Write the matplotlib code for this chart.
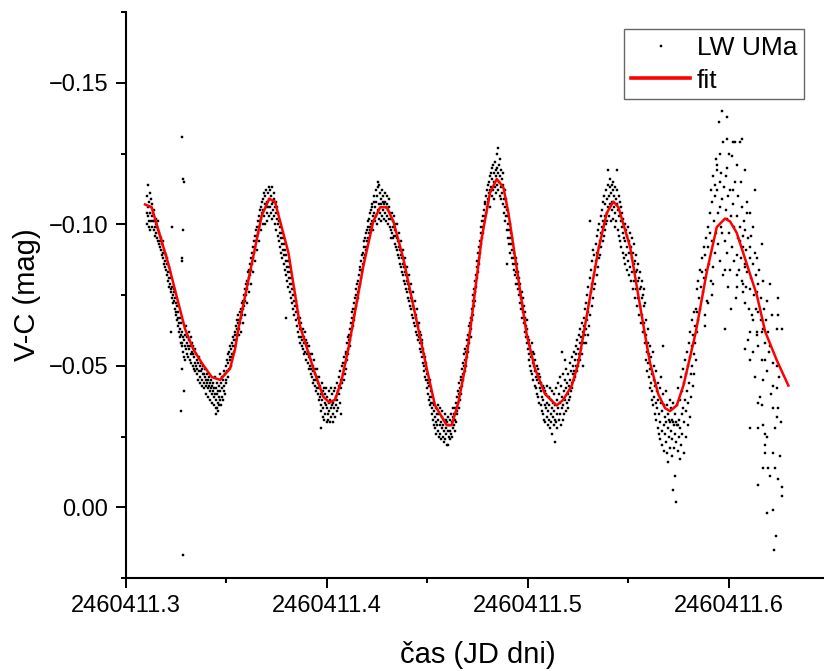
import numpy as np
import matplotlib
matplotlib.use("Agg")
import matplotlib.pyplot as plt
from matplotlib.ticker import FixedLocator, FuncFormatter, MultipleLocator

plt.rcParams["font.family"] = ["Liberation Sans", "DejaVu Sans"]

# time is kept as units of 1e-4 d after T0, V-C in mmag
T0 = 2460411.3

cyc1 = [(105,-104),(107,-100),(108,-110),(110,-103),(112,-106),(113,-114),(115,-101),(117,-108),(118,-99),(120,-111),
        (122,-104),(123,-98),(125,-106),(127,-101),(128,-109),(130,-103),(132,-99),(133,-107),(135,-101),(137,-104),
        (139,-98),(141,-101),(143,-105),(145,-99),(147,-96),(149,-102),(151,-97),(153,-100),(155,-95),(157,-99),
        (159,-94),(161,-98),(163,-101),(165,-93),(167,-97),(169,-92),(171,-96),(173,-94),(175,-91),(177,-95),
        (179,-89),(181,-93),(183,-90),(185,-94),(187,-88),(189,-91),(191,-86),(193,-90),(195,-87),(197,-85),
        (199,-89),(201,-84),(203,-88),(205,-82),(207,-86),(209,-83),(211,-80),(213,-85),(215,-81),(217,-78),
        (219,-83),(221,-79),(223,-76),(225,-81),(225,-62),(227,-77),(229,-99),(230,-74),(232,-78),(234,-75),
        (236,-72),(238,-77),(240,-73),(242,-76),(244,-70),(246,-74),(248,-68),(250,-72),(252,-69),(254,-66),
        (256,-71),(258,-67),(260,-64),(262,-69),(264,-65),(266,-62),(268,-67),(270,-63),(272,-60),(273,-58),
        (274,-65),(276,-61),(277,-34),(278,-131),(278,-88),(278,-49),(279,-58),(280,-87),(281,-62),(282,-57),
        (284,-60),(286,-116),(286,-98),(286,17),(287,-55),(288,-115),(289,-59),(291,-41),(291,-53),(293,-57),
        (295,-52),(297,-61),(299,-56),(301,-64),(303,-58),(305,-54),(307,-60),(309,-57),(311,-53),(313,-62),
        (315,-56),(317,-59),(319,-52),(321,-57),(323,-54),(325,-60),(327,-51),(329,-55),(331,-58),(333,-50),
        (335,-54),(337,-57),(339,-49),(341,-53),(343,-56),(345,-51),(347,-48),(349,-54),(351,-50),(353,-47),
        (355,-52),(357,-49),(359,-45),(361,-51),(363,-48),(365,-53),(367,-46),(369,-50),(371,-44),(373,-48),
        (375,-51),(377,-45),(379,-49),(381,-43),(383,-47),(385,-50),(387,-44),(389,-47),(391,-42),(393,-46),
        (395,-49),(397,-43),(399,-45),(401,-40),(403,-44),(405,-47),(407,-42),(409,-45),(411,-39),(413,-43),
        (415,-46),(417,-41),(419,-44),(421,-38),(423,-42),(425,-45),(427,-40),(429,-43),(431,-37),(433,-41),
        (435,-44),(437,-39),(439,-42),(441,-36),(443,-40),(445,-46),(447,-38),(448,-33),(449,-42),(451,-35),
        (453,-40),(455,-35),(455,-44),(457,-37),(459,-41),(461,-34),(462,-36),(463,-39),(465,-43),(467,-38),
        (469,-47),(471,-41),(473,-36),(475,-44),(477,-39),(479,-46),(481,-42),(483,-38),(485,-45),(487,-41),
        (489,-48),(491,-43),(493,-40),(495,-47),(497,-44),(499,-50),(501,-45),(503,-52),(505,-48),(507,-54),
        (509,-46),(511,-51),(513,-55),(515,-49),(517,-53),(519,-57),(521,-52),(523,-56),(525,-50),(527,-54),
        (529,-58),(531,-53),(533,-57),(535,-60),(537,-55),(539,-59),(541,-62),(543,-57),(545,-61),(547,-64),
        (549,-59),(551,-63),(553,-66),(555,-61),(557,-65),(559,-68)]

cyc2 = [(561,-61),(563,-66),(565,-63),(567,-69),(569,-65),(571,-62),(573,-70),(575,-67),(577,-72),(579,-68),
        (581,-65),(583,-73),(585,-70),(587,-75),(589,-71),(591,-68),(593,-77),(595,-73),(597,-79),(599,-75),
        (601,-72),(603,-80),(605,-77),(607,-83),(609,-79),(611,-76),(613,-84),(615,-81),(617,-86),(619,-82),
        (621,-79),(623,-88),(625,-84),(627,-90),(629,-86),(631,-83),(633,-92),(635,-88),(637,-94),(639,-90),
        (641,-87),(643,-96),(645,-92),(647,-98),(649,-94),(651,-91),(653,-99),(655,-96),(657,-101),(659,-97),
        (661,-94),(663,-103),(665,-99),(667,-105),(669,-101),(671,-98),(673,-106),(675,-102),(677,-108),(679,-104),
        (681,-100),(683,-109),(685,-105),(687,-111),(689,-103),(691,-107),(693,-100),(695,-110),(697,-106),(699,-112),
        (701,-104),(703,-108),(705,-101),(707,-111),(709,-106),(711,-113),(713,-103),(715,-109),(717,-106),(719,-112),
        (721,-104),(723,-110),(725,-107),(727,-113),(729,-102),(731,-108),(733,-105),(735,-111),(737,-103),(739,-109),
        (741,-106),(743,-100),(745,-108),(747,-104),(749,-98),(751,-106),(753,-102),(755,-96),(757,-104),(759,-100),
        (761,-94),(763,-101),(765,-97),(767,-92),(769,-99),(771,-95),(773,-90),(775,-97),(777,-93),(779,-88),
        (781,-95),(783,-91),(785,-86),(787,-93),(789,-89),(791,-84),(793,-91),(795,-87),(796,-67),(797,-82),
        (799,-89),(801,-85),(803,-80),(805,-87),(807,-83),(809,-78),(811,-85),(813,-81),(815,-76),(817,-83),
        (819,-79),(821,-74),(823,-81),(825,-77),(827,-72),(829,-79),(831,-75),(833,-70),(835,-77),(837,-73),
        (839,-68),(841,-75),(843,-71),(845,-66),(847,-73),(849,-69),(851,-64),(853,-71),(855,-67),(857,-62),
        (859,-69),(861,-65),(863,-60),(865,-67),(867,-63),(869,-58),
        (871,-60),(873,-65),(875,-57),(877,-62),(879,-59),(881,-63),(883,-56),(885,-60),(887,-54),(889,-58),
        (891,-62),(893,-55),(895,-59),(897,-52),(899,-57),(901,-54),(903,-58),(905,-51),(907,-55),(909,-49),
        (911,-53),(913,-57),(915,-50),(917,-54),(919,-47),(921,-52),(923,-49),(925,-54),(927,-46),(929,-50),
        (931,-44),(933,-48),(935,-52),(937,-45),(939,-49),(941,-43),(943,-47),(945,-41),(947,-45),(949,-49),
        (951,-42),(953,-46),(955,-40),(957,-44),(959,-38),(961,-42),(963,-46),(965,-39),(967,-43),(969,-36),
        (970,-28),(971,-40),(973,-34),(975,-44),(977,-38),(979,-32),(981,-41),(983,-35),(985,-42),(987,-31),
        (989,-37),(991,-40),(993,-33),(995,-36),(997,-42),(999,-30),(1001,-35),(1003,-39),(1005,-33),(1007,-31),
        (1009,-37),(1011,-41),(1013,-34),(1015,-30),(1017,-38),(1019,-35),(1021,-42),(1023,-32),(1025,-36),(1027,-40),
        (1029,-33),(1031,-37),(1033,-30),(1035,-41),(1037,-35),(1039,-38),(1041,-32),(1043,-42),(1045,-36),(1047,-39),
        (1049,-34),(1051,-44),(1053,-38),(1055,-41),(1057,-35),(1059,-46),(1061,-40),(1063,-43),(1065,-37),(1067,-48),
        (1069,-42),(1071,-45),(1073,-33),(1075,-50),(1077,-44),(1079,-47),(1081,-51),(1083,-45),(1085,-49),(1087,-53),
        (1089,-47),(1091,-51),(1093,-55),(1095,-49),(1097,-54),(1099,-58),(1101,-52),(1103,-56),(1105,-60),(1107,-54),
        (1109,-59)]

cyc3 = [(1111,-61),(1113,-57),(1115,-63),(1117,-59),(1119,-65),(1121,-61),(1123,-67),(1125,-63),(1127,-69),(1129,-64),
        (1131,-70),(1133,-66),(1135,-72),(1137,-68),(1139,-74),(1141,-70),(1143,-75),(1145,-71),(1147,-77),(1149,-73),
        (1151,-79),(1153,-74),(1155,-80),(1157,-76),(1159,-82),(1161,-78),(1163,-84),(1165,-79),(1167,-85),(1169,-81),
        (1171,-87),(1173,-83),(1175,-89),(1177,-84),(1179,-90),(1181,-86),(1183,-92),(1185,-88),(1187,-94),(1189,-89),
        (1191,-95),(1193,-91),(1195,-97),(1197,-92),(1199,-98),(1201,-94),(1203,-99),(1205,-95),(1207,-101),(1209,-97),
        (1211,-102),(1213,-98),(1215,-104),(1217,-99),(1219,-105),(1221,-100),(1223,-106),(1225,-101),(1227,-107),(1229,-103),
        (1231,-98),(1233,-108),(1235,-104),(1237,-110),(1239,-101),(1241,-106),(1243,-112),(1245,-103),(1247,-108),(1249,-100),
        (1251,-110),(1253,-105),(1255,-113),(1256,-115),(1258,-102),(1259,-114),(1261,-107),(1263,-111),(1265,-104),(1267,-109),
        (1269,-101),(1271,-107),(1273,-112),(1275,-103),(1277,-108),(1279,-105),(1281,-110),(1283,-102),(1285,-107),(1287,-111),
        (1289,-104),(1291,-108),(1293,-101),(1295,-106),(1297,-110),(1299,-103),(1301,-107),(1303,-100),(1305,-105),(1307,-109),
        (1309,-102),(1311,-106),(1313,-99),(1315,-104),(1317,-95),(1319,-102),(1321,-98),(1323,-104),(1325,-97),(1327,-101),
        (1329,-95),(1331,-99),(1333,-103),(1335,-96),(1337,-100),(1339,-93),(1341,-98),(1343,-92),(1345,-96),(1347,-100),
        (1349,-91),(1351,-95),(1353,-89),(1355,-94),(1357,-97),(1359,-88),(1361,-92),(1363,-86),(1365,-91),(1367,-94),
        (1369,-85),(1371,-89),(1373,-83),(1375,-88),(1377,-91),(1379,-82),(1381,-86),(1383,-80),(1385,-85),(1387,-88),
        (1389,-79),(1391,-83),(1393,-77),(1395,-82),(1397,-85),(1399,-76),(1401,-80),(1403,-74),(1405,-79),(1407,-82),
        (1409,-73),(1411,-77),(1413,-71),(1415,-76),(1417,-79),(1419,-70),(1421,-74),(1423,-68),(1425,-73),(1427,-76),
        (1429,-67),(1431,-71),(1433,-65),(1435,-70),(1437,-73),(1439,-64),(1441,-68),(1443,-62),(1445,-67),(1447,-70),
        (1449,-61),(1451,-65),(1453,-59),(1455,-64),
        (1457,-60),(1459,-65),(1461,-58),(1463,-62),(1465,-56),(1467,-61),(1469,-55),(1471,-59),(1473,-53),(1475,-58),
        (1477,-51),(1479,-56),(1481,-50),(1483,-54),(1485,-48),(1487,-53),(1489,-46),(1491,-51),(1493,-45),(1495,-49),
        (1497,-42),(1499,-47),(1501,-44),(1503,-40),(1505,-45),(1507,-38),(1509,-43),(1511,-39),(1513,-45),(1515,-36),
        (1517,-41),(1519,-37),(1521,-33),(1523,-39),(1525,-35),(1527,-31),(1529,-37),(1531,-34),(1533,-29),(1535,-36),
        (1537,-32),(1539,-28),(1541,-35),(1543,-30),(1545,-26),(1547,-33),(1549,-29),(1551,-36),(1553,-27),(1555,-31),
        (1557,-25),(1559,-33),(1561,-29),(1563,-35),(1565,-26),(1567,-30),(1569,-24),(1571,-32),(1573,-28),(1575,-34),
        (1577,-25),(1579,-29),(1581,-23),(1583,-31),(1585,-27),(1587,-33),(1589,-24),(1591,-28),(1593,-31),(1595,-26),
        (1597,-22),(1599,-30),(1601,-22),(1603,-27),(1605,-32),(1607,-25),(1609,-29),(1611,-24),(1613,-31),(1615,-27),
        (1617,-33),(1619,-26),(1621,-30),(1623,-25),(1625,-32),(1627,-28),(1629,-35),(1631,-29),(1633,-33),(1635,-27),
        (1637,-35),(1639,-31),(1641,-37),(1643,-30),(1645,-34),(1647,-39),(1649,-33),(1651,-37),(1653,-41),(1655,-35),
        (1657,-40),(1659,-44),(1661,-38),(1663,-42),(1665,-46),(1667,-40),(1669,-45),(1671,-49),(1673,-43),(1675,-47),
        (1677,-51),(1679,-45),(1681,-50),(1683,-54),(1685,-48),(1687,-52),(1689,-56),(1691,-50),(1693,-55),(1695,-59),
        (1697,-53),(1699,-57),(1701,-61),(1703,-55),(1705,-60),(1707,-64),(1709,-58),(1711,-62)]

cyc4 = [(1713,-65),(1715,-60),(1717,-67),(1719,-63),(1721,-70),(1723,-66),(1725,-73),(1727,-68),(1729,-75),(1731,-71),
        (1733,-77),(1735,-73),(1737,-80),(1739,-76),(1741,-82),(1743,-78),(1745,-85),(1747,-81),(1749,-87),(1751,-83),
        (1753,-90),(1755,-86),(1757,-92),(1759,-88),(1761,-94),(1763,-90),(1765,-97),(1767,-93),(1769,-99),(1771,-95),
        (1773,-101),(1775,-97),(1777,-103),(1779,-99),(1781,-105),(1783,-101),(1785,-107),(1787,-103),(1789,-108),(1791,-104),
        (1793,-110),(1795,-106),(1797,-112),(1799,-108),(1801,-114),(1803,-109),(1805,-115),(1807,-111),(1809,-117),(1811,-112),
        (1813,-106),(1815,-118),(1817,-113),(1819,-120),(1821,-110),(1823,-116),(1825,-121),(1827,-112),(1829,-118),(1831,-109),
        (1833,-115),(1835,-122),(1837,-113),(1839,-119),(1841,-111),(1843,-117),(1844,-125),(1845,-114),(1847,-120),(1849,-112),
        (1851,-118),(1853,-127),(1855,-115),(1857,-121),(1859,-110),(1861,-117),(1862,-123),(1864,-113),(1866,-119),(1868,-109),
        (1870,-116),(1872,-111),(1874,-118),(1876,-107),(1878,-114),(1880,-109),(1882,-104),(1884,-112),(1886,-106),(1888,-101),
        (1890,-109),(1892,-103),(1894,-98),(1895,-86),(1897,-105),(1899,-100),(1901,-95),(1903,-103),(1905,-98),(1907,-93),
        (1909,-100),(1911,-95),(1913,-90),(1915,-97),(1917,-93),(1919,-88),(1921,-95),(1923,-91),(1925,-86),(1927,-93),
        (1929,-88),(1931,-84),(1933,-90),(1935,-86),(1937,-82),(1939,-88),(1941,-83),(1943,-79),(1945,-86),(1947,-81),
        (1949,-77),(1951,-83),(1953,-79),(1955,-75),(1957,-81),(1959,-76),(1961,-72),(1963,-79),(1965,-74),(1967,-70),
        (1969,-76),(1971,-72),(1973,-67),(1975,-74),(1977,-69),(1979,-65),(1981,-71),(1983,-67),(1985,-62),(1987,-69),
        (1989,-64),(1991,-60),(1993,-66),
        (1995,-58),(1997,-63),(1999,-56),(2001,-60),(2003,-54),(2005,-59),(2007,-52),(2009,-57),(2011,-50),(2013,-55),
        (2015,-48),(2017,-53),(2019,-58),(2021,-47),(2023,-51),(2025,-55),(2027,-45),(2029,-50),(2031,-54),(2033,-43),
        (2035,-48),(2037,-52),(2039,-42),(2041,-46),(2043,-50),(2045,-40),(2047,-45),(2049,-49),(2051,-39),(2053,-44),
        (2055,-47),(2057,-37),(2059,-42),(2061,-46),(2063,-36),(2065,-41),(2067,-44),(2069,-34),(2071,-39),(2073,-43),
        (2075,-33),(2077,-38),(2079,-42),(2081,-31),(2083,-36),(2085,-41),(2087,-30),(2089,-35),(2091,-40),(2093,-32),
        (2095,-37),(2097,-43),(2099,-29),(2101,-34),(2103,-39),(2105,-31),(2107,-36),(2109,-42),(2111,-28),(2113,-33),
        (2115,-38),(2117,-30),(2119,-35),(2121,-41),(2122,-26),(2124,-32),(2126,-37),(2128,-29),(2130,-34),(2132,-40),
        (2134,-31),(2135,-23),(2137,-36),(2139,-30),(2141,-42),(2143,-33),(2145,-38),(2147,-28),(2149,-44),(2151,-35),
        (2153,-31),(2155,-40),(2157,-46),(2159,-33),(2161,-37),(2163,-29),(2165,-43),(2167,-35),(2168,-55),(2170,-39),
        (2172,-31),(2174,-47),(2176,-36),(2178,-41),(2180,-33),(2182,-45),(2184,-38),(2185,-52),(2187,-34),(2189,-42),
        (2191,-49),(2193,-37),(2195,-44),(2197,-35),(2199,-40),(2201,-47),(2203,-38),(2205,-43),(2207,-51),(2209,-39),
        (2211,-45),(2213,-41),(2215,-48),(2217,-44),(2219,-53),(2221,-42),(2223,-47),(2225,-50),(2227,-45),(2229,-55),
        (2231,-48),(2233,-52),(2235,-46),(2237,-57),(2239,-50),(2241,-54),(2243,-48),(2245,-59),(2247,-52),(2249,-56),
        (2251,-50),(2253,-61),(2255,-54),(2257,-58),(2259,-52),(2261,-63),(2263,-56),(2265,-60),(2267,-54),(2269,-65),
        (2271,-58),(2273,-62),(2275,-50)]

cyc5 = [(2277,-64),(2279,-58),(2281,-67),(2283,-61),(2285,-70),(2287,-63),(2289,-58),(2291,-72),(2293,-66),(2295,-75),
        (2297,-61),(2299,-69),(2301,-78),(2303,-64),(2305,-72),(2307,-81),(2309,-101),(2311,-68),(2313,-76),(2315,-84),
        (2317,-71),(2319,-79),(2321,-87),(2323,-74),(2325,-91),(2327,-82),(2329,-77),(2331,-89),(2333,-85),(2335,-79),
        (2337,-93),(2339,-87),(2341,-82),(2343,-96),(2345,-90),(2347,-85),(2349,-98),(2351,-92),(2353,-88),(2355,-100),
        (2357,-94),(2359,-89),(2361,-103),(2363,-97),(2365,-92),(2367,-105),(2369,-99),(2371,-94),(2373,-108),(2375,-101),
        (2377,-96),(2379,-110),(2381,-103),(2383,-98),(2385,-107),(2387,-100),(2389,-112),(2391,-104),(2393,-109),(2395,-101),
        (2397,-114),(2399,-106),(2400,-119),(2402,-110),(2404,-103),(2406,-113),(2408,-107),(2410,-116),(2412,-101),(2414,-111),
        (2416,-105),(2418,-114),(2420,-108),(2422,-102),(2424,-112),(2425,-115),(2427,-106),(2429,-110),(2431,-99),(2433,-113),
        (2435,-104),(2437,-109),(2439,-101),(2441,-119),(2443,-107),(2445,-112),(2447,-98),(2449,-105),(2451,-110),(2453,-96),
        (2455,-103),(2457,-108),(2459,-94),(2461,-101),(2463,-106),(2465,-92),(2467,-99),(2469,-104),(2471,-90),(2473,-97),
        (2475,-102),(2477,-88),(2479,-95),(2481,-100),(2483,-86),(2485,-94),(2487,-98),(2489,-89),(2491,-96),(2493,-84),
        (2495,-92),(2497,-99),(2499,-87),(2501,-94),(2503,-82),(2505,-90),(2507,-97),(2509,-85),(2511,-92),(2513,-80),
        (2515,-88),(2517,-95),(2519,-83),(2521,-90),(2523,-77),(2525,-86),(2527,-93),(2529,-80),(2531,-87),(2533,-74),
        (2535,-83),(2537,-89),(2539,-77),(2541,-84),(2543,-71),(2545,-80),(2547,-86),(2549,-74),(2551,-81),(2553,-68),
        (2555,-77),(2557,-83),(2559,-71),(2561,-78),(2563,-65),(2565,-74),(2567,-80),(2569,-68),(2571,-75),(2573,-62),
        (2575,-71),(2577,-77),(2579,-65),(2581,-72),
        (2583,-58),(2585,-66),(2587,-52),(2589,-61),(2591,-55),(2593,-48),(2595,-58),(2597,-51),(2599,-63),(2601,-46),
        (2603,-54),(2605,-42),(2607,-57),(2609,-49),(2611,-44),(2613,-53),(2615,-38),(2617,-47),(2619,-41),(2621,-55),
        (2623,-36),(2625,-45),(2627,-39),(2629,-50),(2631,-33),(2633,-43),(2635,-37),(2637,-48),(2639,-31),(2641,-41),
        (2643,-35),(2645,-28),(2647,-44),(2649,-38),(2651,-26),(2653,-33),(2655,-42),(2657,-30),(2659,-24),(2661,-37),
        (2663,-46),(2665,-27),(2667,-34),(2669,-22),(2671,-40),(2673,-57),(2675,-29),(2677,-36),(2679,-20),(2681,-32),
        (2683,-26),(2685,-41),(2687,-23),(2689,-30),(2691,-36),(2693,-19),(2695,-28),(2697,-33),(2698,-16),(2700,-31),
        (2702,-25),(2704,-38),(2706,-21),(2708,-30),(2710,-27),(2712,-35),(2714,-18),(2716,-31),(2718,-24),(2720,-30),
        (2722,-37),(2723,-6),(2725,-29),(2727,-21),(2729,-33),(2731,-26),(2733,-11),(2735,-30),(2736,-2),(2738,-23),
        (2740,-29),(2742,-36),(2744,-20),(2746,-29),(2748,-42),(2750,-25),(2752,-31),(2754,-17),(2756,-38),(2758,-28),
        (2760,-46),(2762,-22),(2764,-33),(2766,-41),(2768,-26),(2770,-49),(2772,-35),(2774,-19),(2776,-44),(2778,-30),
        (2780,-52),(2782,-38),(2784,-25),(2786,-47),(2788,-34),(2790,-55),(2792,-41),(2794,-29),(2796,-50),(2798,-37),
        (2800,-58),(2802,-44),(2804,-32),(2806,-53),(2808,-62),(2810,-47),(2812,-39),(2814,-57),(2816,-66),(2818,-50),
        (2820,-43),(2822,-61),(2824,-54),(2826,-69),(2828,-47),(2830,-58),(2832,-64),(2834,-52)]

cyc6 = [(2836,-70),(2839,-77),(2839,-69),(2842,-62),(2845,-80),(2848,-66),(2851,-74),(2854,-84),(2857,-70),(2860,-78),
        (2864,-83),(2867,-88),(2870,-76),(2873,-92),(2876,-81),(2878,-68),(2881,-89),(2881,-64),(2884,-95),(2887,-84),
        (2890,-73),(2893,-99),(2897,-92),(2897,-72),(2900,-86),(2903,-104),(2905,-97),(2908,-80),(2911,-112),(2914,-108),
        (2914,-75),(2917,-94),(2920,-117),(2922,-85),(2922,-79),(2925,-101),(2928,-114),(2931,-110),(2931,-90),(2934,-123),
        (2937,-97),(2939,-112),(2939,-119),(2942,-121),(2945,-104),(2947,-93),(2950,-136),(2953,-115),(2956,-125),(2956,-106),
        (2956,-87),(2959,-99),(2962,-118),(2964,-140),(2964,-97),(2967,-109),(2970,-82),(2972,-129),(2975,-113),(2978,-94),
        (2980,-84),(2980,-63),(2983,-105),(2986,-117),(2988,-138),(2988,-130),(2988,-120),(2988,-102),(2991,-90),(2994,-110),
        (2997,-78),(3000,-97),(3002,-125),(3005,-112),(3005,-84),(3008,-103),(3010,-70),(3013,-124),(3016,-92),(3019,-107),
        (3021,-112),(3021,-129),(3024,-87),(3027,-99),(3029,-129),(3032,-115),(3035,-74),(3038,-121),(3038,-82),(3038,-78),
        (3038,-89),(3041,-103),(3044,-95),(3047,-110),(3050,-84),(3052,-99),(3055,-129),(3055,-94),(3058,-88),(3061,-115),
        (3063,-130),(3063,-106),(3066,-80),(3069,-96),(3071,-79),(3071,-92),(3071,-76),(3074,-101),(3077,-86),(3080,-119),
        (3080,-98),(3080,-85),(3080,-72),(3080,-56),(3083,-91),(3086,-78),(3088,-108),(3088,-104),(3091,-83),(3094,-95),
        (3096,-59),(3099,-70),(3102,-88),(3105,-104),(3105,-92),(3105,-77),(3105,-62),(3105,-52),(3105,-28),(3108,-81),
        (3111,-96),(3114,-68),(3117,-86),(3121,-99),(3121,-66),(3121,-55),(3124,-75),(3127,-90),(3129,-112),(3130,-46),
        (3133,-82),(3136,-70),(3138,-76),(3138,-62),(3138,-61),(3141,-88),(3144,-57),(3146,-79),(3146,-69),(3146,-37),
        (3146,-28),(3146,-8),(3150,-84),(3154,-39),(3157,-66),(3160,-74),(3163,-93),(3163,-62),(3163,-52),(3163,-36),
        (3167,-80),(3171,-63),(3171,-45),(3171,-29),(3171,-14),(3175,-70),(3179,-58),(3179,-52),(3179,-26),(3179,-22),
        (3179,-19),(3183,-66),(3187,-73),(3187,-25),(3187,2),(3191,-48),(3196,-62),(3196,-14),(3200,-55),(3204,-79),
        (3204,-57),(3204,-11),(3208,-40),(3212,-68),(3217,1),(3220,-51),(3220,-43),(3220,-35),(3220,-19),(3225,15),
        (3229,-28),(3229,-14),(3234,10),(3237,-63),(3237,-50),(3237,-42),(3237,-32),(3242,-68),(3245,-74),(3245,-35),
        (3245,-10),(3250,-46),(3254,-18),(3258,-30),(3262,-63),(3262,-7),(3262,-4)]

# fitted curve vertices (t, V-C)
fit_pts = [(96,-107),(129,-106),(212,-86),(295,-63),(335,-56),(378,-51),(428,-46),(469,-45),(519,-49),(544,-56),(560,-63),
           (618,-83),(676,-103),(714,-109),(742,-108),(809,-90),(867,-64),(933,-49),(983,-39),(1013,-37),(1041,-38),
           (1074,-45),(1107,-56),(1181,-85),(1231,-101),(1265,-106),(1298,-106),(1331,-101),(1380,-88),(1455,-63),(1497,-49),
           (1538,-36),(1596,-29),(1621,-29),(1654,-37),(1687,-49),(1712,-62),(1770,-95),(1811,-111),(1845,-116),(1878,-113),
           (1903,-104),(1994,-61),(2035,-49),(2085,-40),(2143,-36),(2176,-38),(2218,-43),(2251,-51),(2276,-61),(2350,-91),
           (2392,-104),(2425,-108),(2450,-106),(2508,-92),(2582,-61),(2607,-51),(2648,-40),(2682,-35),(2707,-34),(2740,-36),
           (2773,-43),(2806,-53),(2835,-62),(2889,-83),(2939,-99),(2980,-102),(3005,-101),(3038,-97),(3088,-86),(3138,-75),
           (3180,-62),(3237,-52),(3295,-43)]

x_major = [2460411.3, 2460411.4, 2460411.5, 2460411.6]
x_minor = [2460411.35, 2460411.45, 2460411.55, 2460411.65]

obs = np.array(cyc1 + cyc2 + cyc3 + cyc4 + cyc5 + cyc6, dtype=float)
t_obs = T0 + obs[:, 0] * 1e-4
vc_obs = obs[:, 1] / 1000.0
fit = np.array(fit_pts, dtype=float)
t_fit = T0 + fit[:, 0] * 1e-4
vc_fit = fit[:, 1] / 1000.0

W, H = 824, 671
fig = plt.figure(figsize=(W / 100, H / 100), dpi=100)
ax = fig.add_axes([125.7 / W, 93 / H, 703.9 / W, 566 / H])

ax.plot(t_obs, vc_obs, ls="none", marker="s", ms=1.6, mfc="black", mec="black", mew=0.3, label="LW UMa")
ax.plot(t_fit, vc_fit, color="red", lw=1.8, label="fit")

ax.set_xlim(2460411.3, 2460411.65)
ax.set_ylim(0.025, -0.175)

ax.xaxis.set_major_locator(FixedLocator(x_major))
ax.xaxis.set_minor_locator(FixedLocator(x_minor))
ax.xaxis.set_major_formatter(FuncFormatter(lambda v, p: f"{v:.1f}"))
ax.yaxis.set_major_locator(MultipleLocator(0.05))
ax.yaxis.set_minor_locator(MultipleLocator(0.025))


def yfmt(v, p):
    if abs(v) < 1e-9:
        v = 0.0
    return f"{v:.2f}".replace("-", "\u2212")


ax.yaxis.set_major_formatter(FuncFormatter(yfmt))

for s in ["top", "right"]:
    ax.spines[s].set_visible(False)
for s in ["left", "bottom"]:
    ax.spines[s].set_linewidth(1.5)

ax.tick_params(which="major", direction="out", length=7.5, width=1.4, labelsize=17, pad=5)
ax.tick_params(which="minor", direction="out", length=3.8, width=1.4)

ax.set_xlabel("čas (JD dni)", fontsize=21)
ax.set_ylabel("V-C (mag)", fontsize=21)
ax.xaxis.set_label_coords(0.5, -0.136)
ax.xaxis.label.set_va("center")
ax.yaxis.set_label_coords(-0.140, 0.5)
ax.yaxis.label.set_va("center")

leg = ax.legend(loc="upper right", bbox_to_anchor=(804 / W, 1 - 29.3 / H), bbox_transform=fig.transFigure,
                fontsize=19, frameon=True, fancybox=False, framealpha=1, edgecolor="#666666",
                borderaxespad=0, borderpad=0.25, handlelength=2.25, handletextpad=0.25, labelspacing=0.33,
                numpoints=1)
leg.get_frame().set_linewidth(1.0)
leg.legend_handles[1].set_linewidth(2.6)

fig.savefig("out.png", dpi=100)
